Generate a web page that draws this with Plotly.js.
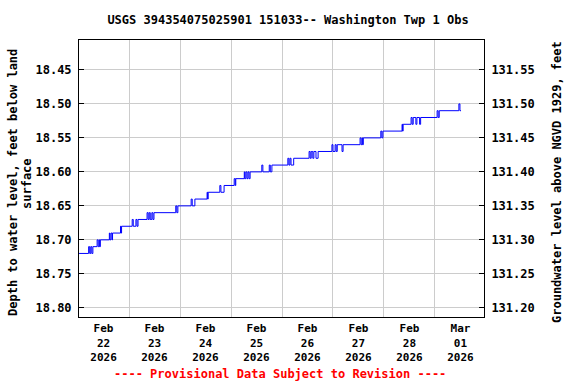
<!DOCTYPE html>
<html><head><meta charset="utf-8">
<script src="https://cdn.plot.ly/plotly-3.0.1.min.js"></script>
<style>html,body{margin:0;padding:0;background:#fff}</style>
</head><body><div id="chart" style="width:576px;height:384px"></div>
<script>
// Observation times (EST) and depth to water (ft below land surface)
const times = [
'2026-02-22 00:30','2026-02-22 05:00','2026-02-22 05:30','2026-02-22 06:00','2026-02-22 06:30','2026-02-22 07:00',
'2026-02-22 09:00','2026-02-22 09:30','2026-02-22 10:00','2026-02-22 10:15','2026-02-22 10:30',
'2026-02-22 14:45','2026-02-22 15:00','2026-02-22 15:30','2026-02-22 16:00','2026-02-22 16:15',
'2026-02-22 20:00','2026-02-22 20:15','2026-02-22 20:30',
'2026-02-23 01:30','2026-02-23 02:00','2026-02-23 03:15','2026-02-23 03:45','2026-02-23 04:15',
'2026-02-23 08:30','2026-02-23 09:00','2026-02-23 09:30','2026-02-23 10:00','2026-02-23 10:45','2026-02-23 11:15','2026-02-23 11:45',
'2026-02-23 22:00','2026-02-23 22:30','2026-02-23 23:00',
'2026-02-24 05:15','2026-02-24 05:45','2026-02-24 07:00',
'2026-02-24 12:45','2026-02-24 13:00','2026-02-24 13:15',
'2026-02-24 18:45','2026-02-24 19:15','2026-02-24 20:45',
'2026-02-25 01:30','2026-02-25 02:00','2026-02-25 02:15',
'2026-02-25 06:15','2026-02-25 06:30','2026-02-25 07:00','2026-02-25 07:30','2026-02-25 08:00','2026-02-25 08:30','2026-02-25 09:00',
'2026-02-25 14:30','2026-02-25 15:00','2026-02-25 18:00','2026-02-25 18:30','2026-02-25 19:15',
'2026-02-26 02:45','2026-02-26 03:15','2026-02-26 03:45','2026-02-26 04:15','2026-02-26 05:30',
'2026-02-26 12:45','2026-02-26 13:15','2026-02-26 13:45','2026-02-26 14:30','2026-02-26 15:00','2026-02-26 16:00','2026-02-26 17:00',
'2026-02-26 23:30','2026-02-27 00:00','2026-02-27 01:00','2026-02-27 01:30','2026-02-27 02:00','2026-02-27 04:15','2026-02-27 04:45',
'2026-02-27 12:45','2026-02-27 13:15','2026-02-27 13:45','2026-02-27 14:00','2026-02-27 14:15',
'2026-02-27 22:30','2026-02-27 23:00','2026-02-27 23:30',
'2026-02-28 08:30','2026-02-28 08:45','2026-02-28 09:00',
'2026-02-28 12:45','2026-02-28 13:15','2026-02-28 13:45','2026-02-28 15:00','2026-02-28 15:30','2026-02-28 16:45','2026-02-28 17:15',
'2026-03-01 01:00','2026-03-01 01:30','2026-03-01 02:00',
'2026-03-01 11:15','2026-03-01 11:45','2026-03-01 12:15'
];
const depths = [
18.72,18.71,18.72,18.71,18.72,18.71,
18.70,18.71,18.70,18.71,18.70,
18.69,18.70,18.69,18.70,18.69,
18.68,18.69,18.68,
18.67,18.68,18.67,18.68,18.67,
18.66,18.67,18.66,18.67,18.66,18.67,18.66,
18.65,18.66,18.65,
18.64,18.65,18.64,
18.63,18.64,18.63,
18.62,18.63,18.62,
18.61,18.62,18.61,
18.60,18.61,18.60,18.61,18.60,18.61,18.60,
18.59,18.60,18.59,18.60,18.59,
18.58,18.59,18.58,18.59,18.58,
18.57,18.58,18.57,18.58,18.57,18.58,18.57,
18.56,18.57,18.56,18.57,18.56,18.57,18.56,
18.55,18.56,18.55,18.56,18.55,
18.54,18.55,18.54,
18.53,18.54,18.53,
18.52,18.53,18.52,18.53,18.52,18.53,18.52,
18.51,18.52,18.51,
18.50,18.51,18.51
];
const landSurfaceElevation = 150.00; // ft NGVD 1929
const labelTimes = ['2026-02-22 12:00','2026-02-23 12:00','2026-02-24 12:00','2026-02-25 12:00','2026-02-26 12:00','2026-02-27 12:00','2026-02-28 12:00','2026-03-01 12:00'];
const dayLabels = ['Feb<br>22<br>2026','Feb<br>23<br>2026','Feb<br>24<br>2026','Feb<br>25<br>2026','Feb<br>26<br>2026','Feb<br>27<br>2026','Feb<br>28<br>2026','Mar<br>01<br>2026'];
const gridTimes = ['2026-02-23 00:00','2026-02-24 00:00','2026-02-25 00:00','2026-02-26 00:00','2026-02-27 00:00','2026-02-28 00:00','2026-03-01 00:00'];
const depthTicks = [18.45,18.50,18.55,18.60,18.65,18.70,18.75,18.80];
const elevTicks = [131.20,131.25,131.30,131.35,131.40,131.45,131.50,131.55];

const elevations = depths.map(d => landSurfaceElevation - d);
const depthRange = [18.8135, 18.406];
const elevRange = depthRange.map(d => landSurfaceElevation - d);
const xRange = ['2026-02-22 00:28','2026-03-01 23:04'];

const F = {family:'"DejaVu Sans Mono", "Liberation Mono", monospace', size:12, color:'#000', weight:'bold'};
const FX = Object.assign({}, F, {size:11});

const traces = [
 {x: times, y: depths, xaxis:'x', yaxis:'y', type:'scatter', mode:'lines', line:{shape:'hv', color:'#0000ff', width:1}, hoverinfo:'skip'},
 {x: times, y: elevations, xaxis:'x2', yaxis:'y2', type:'scatter', mode:'lines', line:{shape:'hv', color:'#0000ff', width:1}, opacity:0, hoverinfo:'skip'}
];

const layout = {
 width:576, height:384,
 margin:{l:79, r:92, t:40, b:67, pad:0},
 paper_bgcolor:'#fff', plot_bgcolor:'#fff',
 showlegend:false,
 font:F,
 title:{text:'USGS 394354075025901 151033-- Washington Twp 1 Obs', font:F, x:0.5, xanchor:'center', y:1-20/384, yanchor:'middle'},
 xaxis:{type:'date', range:xRange, tickmode:'array', tickvals:labelTimes, ticktext:dayLabels, showgrid:false, ticks:'', tickfont:FX,
        showline:true, linecolor:'#000', linewidth:1, mirror:true, zeroline:false, fixedrange:true, ticklabelstandoff:1},
 xaxis2:{type:'date', range:xRange, overlaying:'x', tickmode:'array', tickvals:gridTimes, showticklabels:false, ticks:'',
        showgrid:true, gridcolor:'#cccccc', gridwidth:1, showline:false, zeroline:false},
 yaxis:{range:depthRange, tickmode:'array', tickvals:depthTicks, ticktext:depthTicks.map(v=>v.toFixed(2)), tickfont:F,
        ticks:'inside', ticklen:5, tickcolor:'#000', showgrid:true, gridcolor:'#cccccc', gridwidth:1,
        showline:true, linecolor:'#000', linewidth:1, mirror:true, zeroline:false, ticklabelstandoff:4},
 yaxis2:{range:elevRange, overlaying:'y', side:'right', anchor:'x', tickmode:'array', tickvals:elevTicks, ticktext:elevTicks.map(v=>v.toFixed(2)), tickfont:F,
        ticks:'inside', ticklen:5, tickcolor:'#000', showgrid:false, showline:true, linecolor:'#000', linewidth:1, zeroline:false, ticklabelstandoff:4},
 annotations:[
  {text:'Depth to water level, feet below land', xref:'paper', yref:'paper', x:(13-79)/405, y:1-(183-40)/277, xanchor:'center', yanchor:'middle', textangle:-90, showarrow:false, font:F},
  {text:'surface', xref:'paper', yref:'paper', x:(27-79)/405, y:1-(183-40)/277, xanchor:'center', yanchor:'middle', textangle:-90, showarrow:false, font:F},
  {text:'Groundwater level above NGVD 1929, feet', xref:'paper', yref:'paper', x:(557-79)/405, y:1-(182-40)/277, xanchor:'center', yanchor:'middle', textangle:-90, showarrow:false, font:F},
  {text:'---- Provisional Data Subject to Revision ----', xref:'paper', yref:'paper', x:(280-79)/405, y:-(374-317)/277, xanchor:'center', yanchor:'middle', showarrow:false, font:Object.assign({}, F, {color:'#ff0000'})}
 ]
};

Plotly.newPlot('chart', traces, layout, {staticPlot:true, displayModeBar:false});
</script></body></html>
